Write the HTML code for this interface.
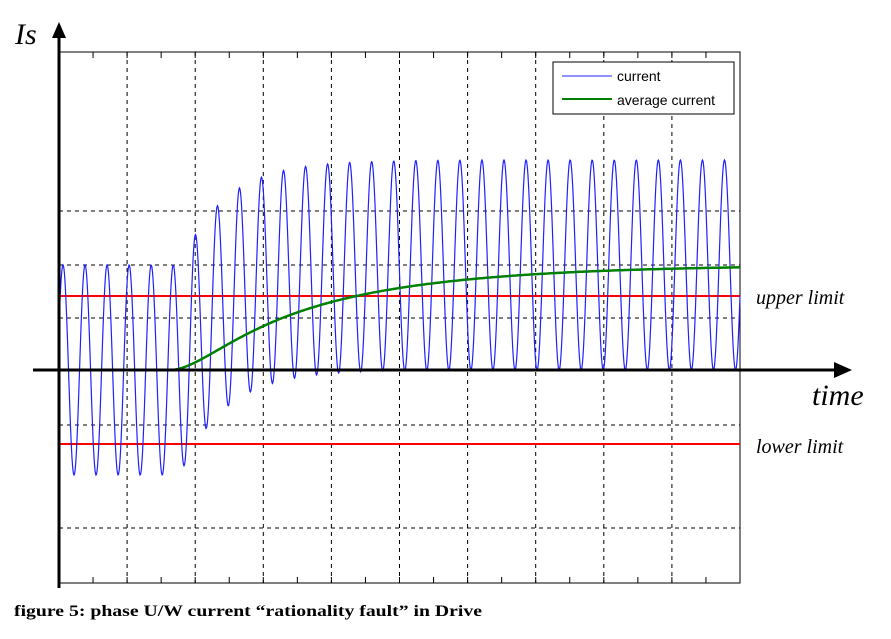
<!DOCTYPE html>
<html><head><meta charset="utf-8"><style>
body{margin:0;background:#fff;width:891px;height:639px;overflow:hidden}
svg{display:block}
</style></head><body>
<svg id="s" width="891" height="639" xmlns="http://www.w3.org/2000/svg">
<rect x="59" y="52" width="681" height="531" fill="#fff" stroke="#000" stroke-width="1"/>
<g id="grid" stroke="#000" stroke-width="1" stroke-dasharray="4,4"></g>
<g id="ticks" stroke="#000" stroke-width="1"></g>
<line x1="59" y1="296" x2="740" y2="296" stroke="#f00" stroke-width="2"/>
<line x1="59" y1="444" x2="740" y2="444" stroke="#f00" stroke-width="2"/>
<path id="cur" fill="none" stroke="#2020ff" stroke-width="1.2"/>
<path id="avg" fill="none" stroke="#008000" stroke-width="2.5"/>
<line x1="33" y1="370" x2="836" y2="370" stroke="#000" stroke-width="3"/>
<polygon points="852,370 834,362 834,378" fill="#000"/>
<line x1="59" y1="588" x2="59" y2="36" stroke="#000" stroke-width="3"/>
<polygon points="59,22 52,38 66,38" fill="#000"/>
<rect x="553" y="62" width="181" height="52" fill="#fff" stroke="#000" stroke-width="1"/>
<line x1="562" y1="76" x2="612" y2="76" stroke="#2020ff" stroke-width="1"/>
<line x1="562" y1="99" x2="612" y2="99" stroke="#008000" stroke-width="2"/>
<text x="617" y="81" font-family="Liberation Sans, sans-serif" font-size="14">current</text>
<text x="617" y="105" font-family="Liberation Sans, sans-serif" font-size="14">average current</text>
<text x="15" y="44" font-family="Liberation Serif, serif" font-style="italic" font-size="30">Is</text>
<text x="756" y="304" font-family="Liberation Serif, serif" font-style="italic" font-size="20">upper limit</text>
<text x="812" y="405" font-family="Liberation Serif, serif" font-style="italic" font-size="30">time</text>
<text x="756" y="453" font-family="Liberation Serif, serif" font-style="italic" font-size="20">lower limit</text>
<text x="14" y="616" font-family="Liberation Serif, serif" font-weight="bold" font-size="16" textLength="468" lengthAdjust="spacingAndGlyphs">figure 5: phase U/W current “rationality fault” in Drive</text>
</svg>
<script>
var g=document.getElementById('grid'),t=document.getElementById('ticks'),ns='http://www.w3.org/2000/svg';
function L(p,a,b,c,d){var l=document.createElementNS(ns,'line');l.setAttribute('x1',a);l.setAttribute('y1',b);l.setAttribute('x2',c);l.setAttribute('y2',d);p.appendChild(l);}
for(var i=1;i<10;i++){var x=59+i*68.1;L(g,x,52,x,583);}
[211,265,318,425,528].forEach(function(y){L(g,59,y,740,y);});
for(var i=1;i<20;i++){var x=59+i*34.05;L(t,x,52,x,58);L(t,x,583,x,577);}
var c='',a='';
for(var x=59;x<=740;x+=0.5){
 var cen=x<180?370:370-105*(1-Math.exp(-(x-180)/45));
 var y=cen-105*Math.cos(2*Math.PI*(x-63)/22.05);
 c+=(x==59?'M':'L')+x+','+y.toFixed(1);
}
for(var x=170;x<=740;x+=2){
 var s=x-170;var y=370-105*(1-Math.exp(-s/150))*(1-Math.exp(-s/40));
 a+=(x==170?'M':'L')+x+','+y.toFixed(1);
}
document.getElementById('cur').setAttribute('d',c);
document.getElementById('avg').setAttribute('d',a);
</script>
</body></html>
